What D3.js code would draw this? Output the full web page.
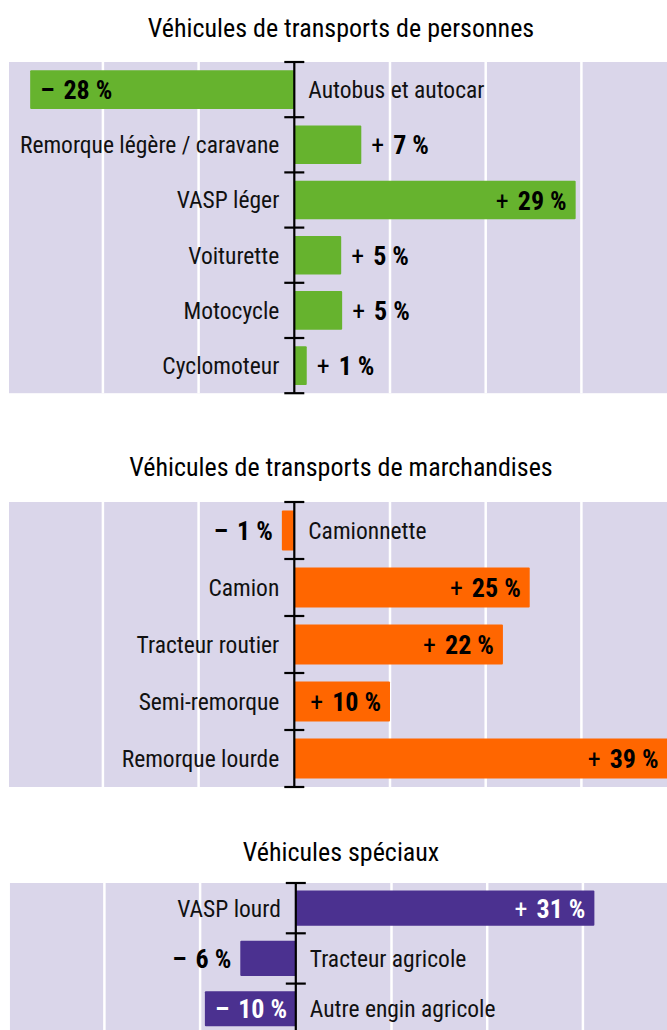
<!DOCTYPE html>
<html>
<head>
<meta charset="utf-8">
<script src="https://cdn.jsdelivr.net/npm/d3@7"></script>
<style>
  body { margin: 0; background: #fff; }
  svg { display: block; }
  text { font-family: "Liberation Sans Narrow", "Roboto Condensed", "DejaVu Sans Condensed", sans-serif; }
</style>
</head>
<body>
<div id="chart"></div>
<script>
// Véhicules de transports de personnes
const personnesLabels = ['Autobus et autocar', 'Remorque légère / caravane', 'VASP léger', 'Voiturette', 'Motocycle', 'Cyclomoteur'];
const personnesValues = [-27.6, 7, 29.4, 4.9, 5, 1.3];
const personnesPrinted = [-28, 7, 29, 5, 5, 1];

// Véhicules de transports de marchandises
const marchandisesLabels = ['Camionnette', 'Camion', 'Tracteur routier', 'Semi-remorque', 'Remorque lourde'];
const marchandisesValues = [-1.3, 24.6, 21.8, 10, 39];
const marchandisesPrinted = [-1, 25, 22, 10, 39];

// Véhicules spéciaux
const speciauxLabels = ['VASP lourd', 'Tracteur agricole', 'Autre engin agricole'];
const speciauxValues = [31.2, -5.8, -9.5];
const speciauxPrinted = [31, -6, -10];

const gridTicks = [-30, -20, -10, 10, 20, 30];

const WIDTH = 667;
const HEIGHT = 1030;

const svg = d3.select('#chart').append('svg').attr('width', WIDTH).attr('height', HEIGHT);

const panels = [
  { title: 'Véhicules de transports de personnes', labels: personnesLabels, values: personnesValues, printed: personnesPrinted,
    color: '#66b32e', inside: '#000', titleY: 37, top: 62, step: 55.2, shift: 0 },
  { title: 'Véhicules de transports de marchandises', labels: marchandisesLabels, values: marchandisesValues, printed: marchandisesPrinted,
    color: '#ff6600', inside: '#000', titleY: 476, top: 502, step: 57, shift: 0 },
  { title: 'Véhicules spéciaux', labels: speciauxLabels, values: speciauxValues, printed: speciauxPrinted,
    color: '#4b3190', inside: '#fff', titleY: 861, top: 883, step: 50.3, shift: 1.5 },
];

panels.forEach(drawPanel);

function drawPanel(p) {
  const g = svg.append('g');
  const x = d3.scaleLinear().domain([-30, 30]).range([7.2 + p.shift, 581.4 + p.shift]);
  const bottom = p.top + p.step * p.labels.length;
  const y = d3.scaleBand().domain(p.labels).range([p.top, bottom]).paddingInner(0.3).paddingOuter(0.15);
  const x0 = x(0);

  g.append('text')
    .attr('x', 341)
    .attr('y', p.titleY)
    .attr('text-anchor', 'middle')
    .attr('font-size', 26)
    .attr('fill', '#000')
    .text(p.title);

  g.append('rect')
    .attr('x', 9)
    .attr('y', p.top)
    .attr('width', WIDTH - 9)
    .attr('height', bottom - p.top)
    .attr('fill', '#dad6ea');

  g.selectAll('.grid')
    .data(gridTicks)
    .enter()
    .append('line')
    .attr('x1', (d) => x(d))
    .attr('x2', (d) => x(d))
    .attr('y1', p.top)
    .attr('y2', bottom)
    .attr('stroke', '#fff')
    .attr('stroke-width', 2.5);

  const rows = p.labels.map((label, i) => ({ label, value: p.values[i], printed: p.printed[i] }));

  g.selectAll('.bar')
    .data(rows)
    .enter()
    .append('rect')
    .attr('x', (d) => Math.min(x(d.value), x0))
    .attr('y', (d) => y(d.label))
    .attr('width', (d) => Math.abs(x(d.value) - x0))
    .attr('height', y.bandwidth())
    .attr('rx', 1)
    .attr('fill', p.color);

  // axis line with ticks at band boundaries
  g.append('line')
    .attr('x1', x0).attr('x2', x0)
    .attr('y1', p.top).attr('y2', bottom)
    .attr('stroke', '#000').attr('stroke-width', 2.2);

  const boundaries = d3.range(p.labels.length + 1).map((i) => p.top + i * y.step());
  g.selectAll('.tick')
    .data(boundaries)
    .enter()
    .append('line')
    .attr('x1', x0 - 10).attr('x2', x0 + 10)
    .attr('y1', (d) => d).attr('y2', (d) => d)
    .attr('stroke', '#000').attr('stroke-width', 2.2);

  // category labels on the opposite side of the bar
  g.selectAll('.cat')
    .data(rows)
    .enter()
    .append('text')
    .attr('x', (d) => (d.value >= 0 ? x0 - 15 : x0 + 14))
    .attr('y', (d) => y(d.label) + y.bandwidth() / 2)
    .attr('dy', '0.36em')
    .attr('text-anchor', (d) => (d.value >= 0 ? 'end' : 'start'))
    .attr('font-size', 23.5)
    .attr('fill', '#111')
    .text((d) => d.label);

  // value labels, inside the bar when it is long enough
  g.selectAll('.val')
    .data(rows)
    .enter()
    .append('text')
    .attr('y', (d) => y(d.label) + y.bandwidth() / 2)
    .attr('dy', '0.37em')
    .attr('font-size', 26)
    .each(function (d) {
      const inside = Math.abs(d.printed) >= 10;
      const end = x(d.value);
      let anchor;
      let xpos;
      if (d.value >= 0) {
        anchor = inside ? 'end' : 'start';
        xpos = inside ? end - 9 : end + 10;
      } else {
        anchor = inside ? 'start' : 'end';
        xpos = inside ? end + 10 : end - 9;
      }
      const t = d3.select(this)
        .attr('x', xpos)
        .attr('text-anchor', anchor)
        .attr('fill', inside ? p.inside : '#000');
      t.append('tspan')
        .attr('font-weight', d.printed < 0 ? 'bold' : 'normal')
        .text(d.printed < 0 ? '–' : '+');
      t.append('tspan')
        .attr('dx', 9)
        .attr('font-weight', 'bold')
        .text(Math.abs(d.printed));
      t.append('tspan')
        .attr('dx', 6)
        .attr('font-weight', 'bold')
        .text('%');
    });
}
</script>
</body>
</html>
